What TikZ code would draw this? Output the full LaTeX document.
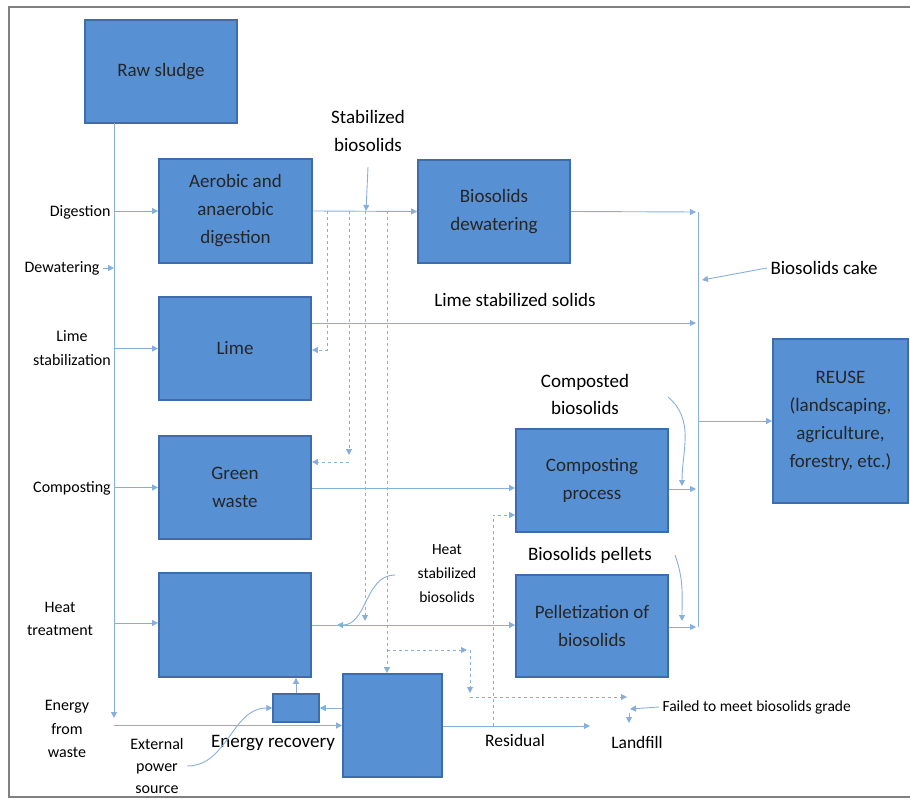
\documentclass[tikz,border=0pt]{standalone}
\usepackage{fontspec}
\setmainfont{Carlito}
\usetikzlibrary{arrows.meta}

\definecolor{boxfill}{RGB}{88,144,212}
\definecolor{boxline}{RGB}{62,108,172}
\definecolor{flowblue}{RGB}{135,175,222}

\tikzset{
  box/.style={draw=boxline, fill=boxfill, line width=1.8pt, align=center,
    font=\fontsize{19}{28}\selectfont, text=black!85},
  flow/.style={draw=flowblue, line width=0.9pt},
  dsh/.style={flow, dash pattern=on 3pt off 3pt},
  side/.style={align=center, font=\fontsize{16}{23.5}\selectfont},
  lbl/.style={align=center, font=\fontsize{19}{28}\selectfont},
  small/.style={align=center, font=\fontsize{15.5}{24}\selectfont},
  >={Triangle[length=6pt,width=6pt]}
}

\begin{document}
\begin{tikzpicture}[x=1pt,y=-1pt]
    \useasboundingbox (0,0) rectangle (910,799);
    \draw [gray, line width=1.2pt] (912,7) -- (9,7) -- (9,797) -- (912,797);

    % process boxes
    \node [box, minimum width=152pt, minimum height=103pt] (raw) at (161,71.5) {Raw sludge};
    \node [box, minimum width=153pt, minimum height=104pt] (aer) at (235.5,211) {Aerobic and\\anaerobic\\digestion};
    \node [box, minimum width=152pt, minimum height=103pt] (dew) at (494,211.5) {Biosolids\\dewatering};
    \node [box, minimum width=152pt, minimum height=103pt] (lime) at (235,348.5) {Lime};
    \node [box, minimum width=152pt, minimum height=103pt] (green) at (235,487.5) {Green\\waste};
    \node [box, minimum width=152pt, minimum height=104pt] (heat) at (235,625) {};
    \node [box, minimum width=152pt, minimum height=103pt] (comp) at (592,480.5) {Composting\\process};
    \node [box, minimum width=152pt, minimum height=102pt] (pel) at (592,626) {Pelletization of\\biosolids};
    \node [box, minimum width=135pt, minimum height=164pt] (reuse) at (840.5,421) {REUSE\\(landscaping,\\agriculture,\\forestry, etc.)};
    \node [box, minimum width=46pt, minimum height=28pt, line width=1.5pt] (erec) at (296,708) {};
    \node [box, minimum width=99pt, minimum height=103pt] (land) at (392.5,725.5) {};

    % side labels
    \node [side, anchor=east] (dig) at (114,212) {Digestion};
    \node [side, anchor=east] (dwl) at (103,268) {Dewatering};
    \node [side] (lst) at (72,348) {Lime\\stabilization};
    \node [side] (cst) at (72,488) {Composting};
    \node [side] (htr) at (60,619) {Heat\\treatment};
    \node [side] (efw) at (67,729) {Energy\\from\\waste};
    \node [side, font=\fontsize{16}{22}\selectfont] (ext) at (157,766) {External\\power\\source};

    % flow labels
    \node [lbl] (stab) at (368,131) {Stabilized\\biosolids};
    \node [lbl] (lss) at (515,300) {Lime stabilized solids};
    \node [lbl, anchor=west] (cake) at (767,268) {Biosolids cake};
    \node [lbl, font=\fontsize{19}{27}\selectfont] (cbs) at (585,394) {Composted\\biosolids};
    \node [lbl] (pll) at (590,555) {Biosolids pellets};
    \node [small] (hsb) at (447,574) {Heat\\stabilized\\biosolids};
    \node [lbl] (erl) at (273,743) {Energy recovery};
    \node [lbl, font=\fontsize{17.5}{20}\selectfont] (res) at (515,740) {Residual};
    \node [lbl, font=\fontsize{17.5}{20}\selectfont] (lfl) at (637,742) {Landfill};
    \node [small, anchor=west] (fail) at (659,707) {Failed to meet biosolids grade};

    % trunk from raw sludge
    \coordinate (t0) at (114,123);
    \coordinate (t1) at (114,718);
    \draw [flow,->] (t0) -- (t1);
    \draw [flow,->] (t0 |- aer) -- (aer.west);
    \draw [flow,->] (dwl.east) -- (t0 |- dwl.east);
    \draw [flow,->] (t0 |- lime) -- (lime.west);
    \draw [flow,->] (t0 |- green) -- (green.west);
    \draw [flow,->] (t0 |- 0,623) -- (heat.west |- 0,623);
    \draw [flow,->] (t0 |- land) -- (land.west);

    % digestion outputs
    \draw [flow,->] (aer.east) -- (dew.west);
    \coordinate (s1) at (366,211);
    \draw [flow,->] ([yshift=-12pt]stab.south) -- (s1);
    \coordinate (d1) at (327,211);
    \coordinate (d2) at (349,211);
    \coordinate (d3) at (365,211);
    \coordinate (d4) at (387,211);
    \draw [dsh,->] (d1) |- (lime.east |- 0,350);
    \draw [dsh,->] (d2) -- (349,455);
    \draw [dsh,->] (349,462) -- (green.east |- 0,462);
    \draw [dsh,->] (d3) -- (365,621);
    \draw [dsh,->] (d4) -- (d4 |- land.north);
    \draw [dsh,->] (387,650) -- (467,650);
    \draw [dsh,->] (470,650) -- (470,693);
    \draw [dsh,->] (470,697) -- (627,697);
    \draw [dsh,->] (493,726) |- (comp.west |- 0,515);

    % collector to reuse
    \coordinate (cx) at (698,212);
    \coordinate (cy) at (698,627);
    \draw [flow] (cx) -- (cy);
    \draw [flow,->] (dew.east) -- ([xshift=-2pt]cx);
    \draw [flow,->] (lime.east |- 0,323) -- ([xshift=-2pt]cx |- 0,323);
    \draw [flow,->] (comp.east |- 0,489) -- ([xshift=-2pt]cx |- 0,489);
    \draw [flow,->] (pel.east |- cy) -- ([xshift=-2pt]cy);
    \draw [flow,->] (cx |- reuse) -- (reuse.west);
    \draw [flow,->] (cake.west) -- (702,280);
    \draw [flow,->] (668,397) to [out=-40,in=90] (682,486);
    \draw [flow,->] (675,555) to [out=-70,in=90] (682,621);

    % green waste and heat treatment
    \draw [flow,->] (green.east |- 0,488) -- (comp.west |- 0,488);
    \draw [flow,->] (heat.east) -- (pel.west |- heat.east);
    \draw [flow,->] (395,575) to [out=180,in=0] (337,625);

    % energy recovery
    \draw [flow,->] (erec.north) -- (erec.north |- heat.south);
    \draw [flow,->] (land.west |- erec) -- (erec.east);
    \draw [flow,->] (ext.east) to [out=0,in=180] (erec.west);
    \draw [flow,->] (land.east |- 0,726) -- (590,726);
    \draw [flow,->] (fail.west) -- (630,709);
    \draw [flow,->] (629,713) -- (629,723);
\end{tikzpicture}
\end{document}
